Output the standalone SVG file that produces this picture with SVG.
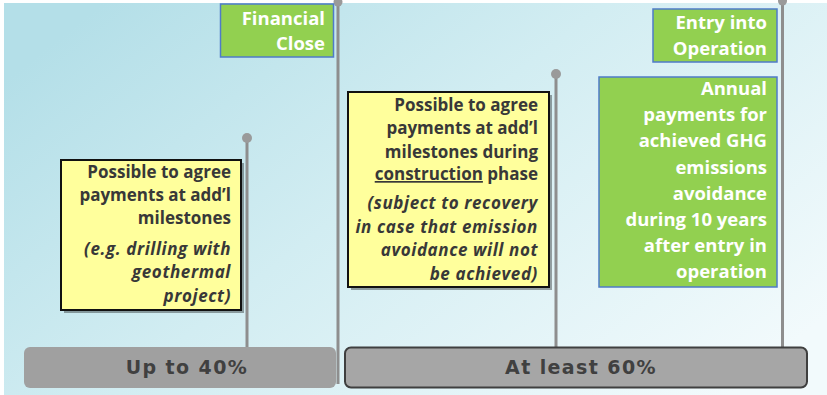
<svg xmlns="http://www.w3.org/2000/svg" width="827" height="395" viewBox="0 0 827 395">
  <defs>
    <linearGradient id="bg" x1="0" y1="0.2" x2="1" y2="0.8">
      <stop offset="0" stop-color="#b4dfe8"/>
      <stop offset="0.45" stop-color="#d2edf2"/>
      <stop offset="1" stop-color="#f2fafc"/>
    </linearGradient>
    <style>
      .pole { stroke: #8e8e8e; stroke-width: 3; fill: none; }
      .dot { fill: #9a9a9a; }
      .note { fill: #ffff9c; stroke: #111; stroke-width: 2; }
      .shadow { fill: #000; opacity: 0.35; }
      .ntxt { font-family: "Open Sans", "Liberation Sans", sans-serif; font-weight: 700; font-size: 17px; fill: #383838; text-anchor: end; }
      .it { font-style: italic; letter-spacing: 0.6px; }
      .gbox { fill: #92d050; stroke: #4f7bc8; stroke-width: 1.5; }
      .gtxt { font-family: "Open Sans", "Liberation Sans", sans-serif; font-weight: 700; font-size: 18.5px; fill: #ffffff; text-anchor: end; }
      .btxt { font-family: "DejaVu Sans", Verdana, sans-serif; font-weight: 700; font-size: 19px; letter-spacing: 1.4px; fill: #404040; text-anchor: middle; }
    </style>
  </defs>

  <rect x="0" y="0" width="827" height="395" fill="#ffffff"/>
  <rect x="4" y="3" width="823" height="392" fill="url(#bg)"/>

  <g id="connectors">
    <line class="pole" x1="338" y1="0" x2="338" y2="384"/>
    <circle class="dot" cx="338" cy="2" r="4.5"/>
    <line class="pole" x1="247" y1="138" x2="247" y2="348"/>
    <circle class="dot" cx="247" cy="138" r="5"/>
    <line class="pole" x1="556" y1="74" x2="556" y2="348"/>
    <circle class="dot" cx="556" cy="74" r="5"/>
    <line class="pole" x1="782.5" y1="0" x2="782.5" y2="348"/>
    <circle class="dot" cx="782.5" cy="1" r="4.5"/>
  </g>

  <g id="financial-close">
    <rect class="gbox" x="220.5" y="4" width="113" height="53"/>
    <text class="gtxt" x="325" y="25">Financial</text>
    <text class="gtxt" x="325" y="50">Close</text>
  </g>

  <g id="entry-into-operation">
    <rect class="gbox" x="653" y="9" width="124" height="53"/>
    <text class="gtxt" x="767" y="29">Entry into</text>
    <text class="gtxt" x="767" y="55">Operation</text>
  </g>

  <g id="annual-payments">
    <rect class="gbox" x="599" y="77" width="178" height="210"/>
    <text class="gtxt" x="767" y="95">Annual</text>
    <text class="gtxt" x="767" y="121">payments for</text>
    <text class="gtxt" x="767" y="147">achieved GHG</text>
    <text class="gtxt" x="767" y="174">emissions</text>
    <text class="gtxt" x="767" y="200">avoidance</text>
    <text class="gtxt" x="767" y="226">during 10 years</text>
    <text class="gtxt" x="767" y="252">after entry in</text>
    <text class="gtxt" x="767" y="278">operation</text>
  </g>

  <g id="note-left">
    <rect class="shadow" x="64" y="163" width="180" height="150"/>
    <rect class="note" x="61" y="160" width="180" height="150"/>
    <text class="ntxt" x="231" y="178">Possible to agree</text>
    <text class="ntxt" x="231" y="201">payments at add’l</text>
    <text class="ntxt" x="231" y="224">milestones</text>
    <text class="ntxt it" x="231" y="255">(e.g. drilling with</text>
    <text class="ntxt it" x="231" y="278">geothermal</text>
    <text class="ntxt it" x="231" y="302">project)</text>
  </g>

  <g id="note-middle">
    <rect class="shadow" x="351" y="95" width="201" height="195"/>
    <rect class="note" x="348" y="92" width="201" height="195"/>
    <text class="ntxt" x="538" y="111">Possible to agree</text>
    <text class="ntxt" x="538" y="134">payments at add’l</text>
    <text class="ntxt" x="538" y="158">milestones during</text>
    <text class="ntxt" x="538" y="180"><tspan text-decoration="underline">construction</tspan> phase</text>
    <text class="ntxt it" x="538" y="209">(subject to recovery</text>
    <text class="ntxt it" x="538" y="233">in case that emission</text>
    <text class="ntxt it" x="538" y="256">avoidance will not</text>
    <text class="ntxt it" x="538" y="280">be achieved)</text>
  </g>

  <g id="bar-up-to-40">
    <rect x="24" y="347" width="312" height="41" rx="6" fill="#a0a0a0"/>
    <text class="btxt" x="187" y="374">Up to 40%</text>
  </g>

  <g id="bar-at-least-60">
    <rect x="345" y="347.5" width="462" height="40" rx="6" fill="#a6a6a6" stroke="#3f3f3f" stroke-width="2"/>
    <text class="btxt" x="581" y="374">At least 60%</text>
  </g>
</svg>
